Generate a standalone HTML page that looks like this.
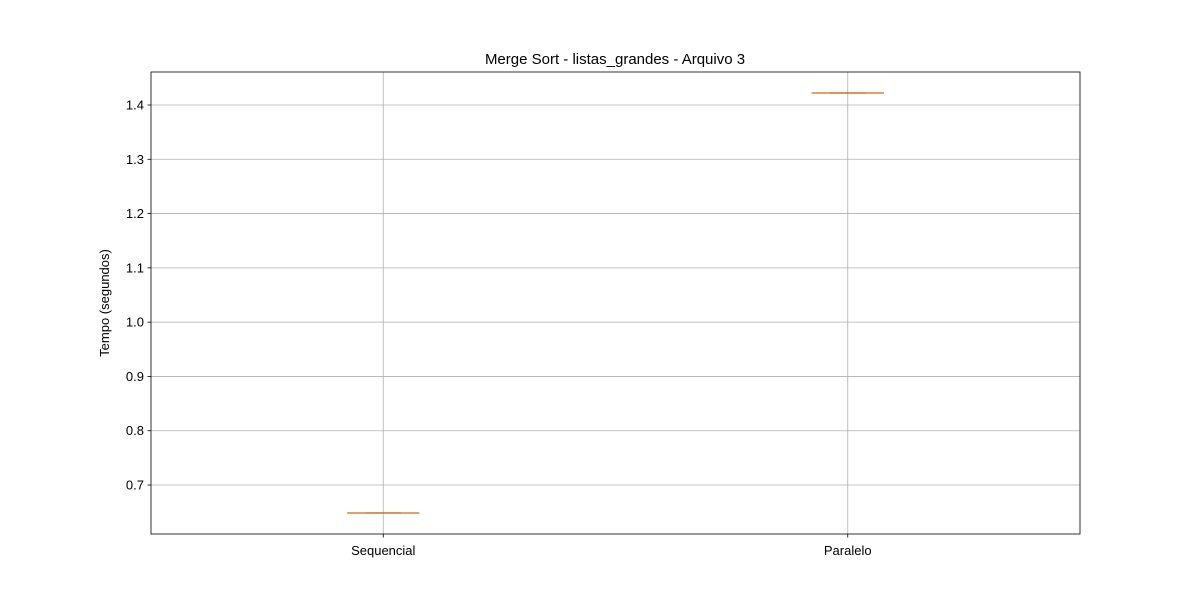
<!DOCTYPE html>
<html><head><meta charset="utf-8"><style>body{margin:0;background:#fff}svg text{font-family:"Liberation Sans","DejaVu Sans",sans-serif;fill:#000}</style></head>
<body>
<svg id="chart" width="1200" height="600">
<rect width="1200" height="600" fill="#fff"/>
<g id="grid"></g><g id="marks"></g><g id="axes"></g>
<text x="615" y="64" font-size="15" text-anchor="middle">Merge Sort - listas_grandes - Arquivo 3</text>
<text transform="translate(109,303) rotate(-90)" font-size="13" text-anchor="middle">Tempo (segundos)</text>
</svg>
<script>
const categories=["Sequencial","Paralelo"];
const medians=[0.6484,1.422];
const yTicks=[0.7,0.8,0.9,1.0,1.1,1.2,1.3,1.4];
const L=151,R=1080,T=72,B=534;
const y=v=>485-(v-0.7)*542.86;
const x=i=>L+(R-L)*(0.5+i*1.5+0.5)/4; // positions 1,2 with xlim 0.5..2.5
const ns="http://www.w3.org/2000/svg";
function mk(p,t,a){const e=document.createElementNS(ns,t);for(const k in a)e.setAttribute(k,a[k]);document.getElementById(p).appendChild(e);return e;}
const xp=i=>L+(R-L)*((i+1)-0.5)/2;
yTicks.forEach(v=>{
 const g=mk('grid','line',{x1:L,x2:R,y1:y(v),y2:y(v),stroke:'#b0b0b0','stroke-width':0.8});
 
 
 mk('axes','line',{x1:L-3.5,x2:L,y1:y(v),y2:y(v),stroke:'#000','stroke-width':0.8});
 const t=mk('axes','text',{x:L-7,y:y(v)+4.5,'font-size':13,'text-anchor':'end'});t.textContent=v.toFixed(1);
 
 
});
categories.forEach((c,i)=>{
 const cx=xp(i);
 const g=mk('grid','line',{x1:cx,x2:cx,y1:T,y2:B,stroke:'#b0b0b0','stroke-width':0.8});
 
 
 mk('axes','line',{x1:cx,x2:cx,y1:B,y2:B+3.5,stroke:'#000','stroke-width':0.8});
 const t=mk('axes','text',{x:cx,y:B+21,'font-size':13,'text-anchor':'middle'});t.textContent=c;
 
 
 const yy=y(medians[i]);
 const box=mk('marks','line',{x1:cx-36,x2:cx+36,y1:yy,y2:yy,stroke:'#555','stroke-width':1});
 
 
 const cap=mk('marks','line',{x1:cx-18,x2:cx+18,y1:yy,y2:yy,stroke:'#000','stroke-width':1});
 
 
 const m=mk('marks','line',{x1:cx-36,x2:cx+36,y1:yy,y2:yy,stroke:'#ff7f0e','stroke-width':1.5,'stroke-opacity':0.7});
 
 
});
const f=mk('axes','rect',{x:L,y:T,width:R-L,height:B-T,fill:'none',stroke:'#000','stroke-width':0.8});


</script>
</body></html>
